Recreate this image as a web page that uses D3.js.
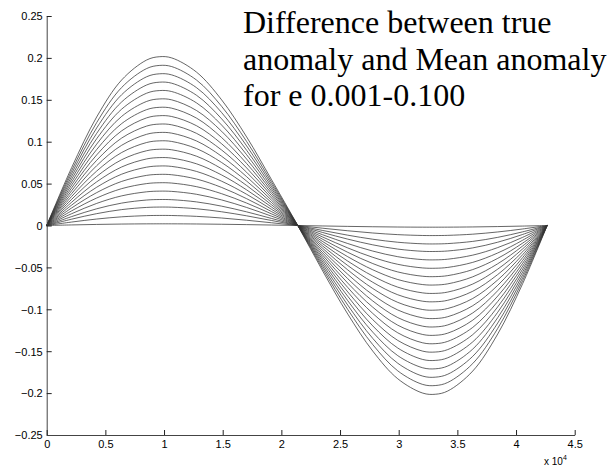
<!DOCTYPE html>
<html>
<head>
<meta charset="utf-8">
<script src="https://cdn.jsdelivr.net/npm/d3@7"></script>
<style>
  html, body { margin: 0; padding: 0; background: #fff; }
  svg { display: block; }
  .ttl { font-family: "Liberation Serif", "Times New Roman", Times, "DejaVu Serif", serif; }
</style>
</head>
<body>
<svg id="chart" width="616" height="469"></svg>
<script>
// ---- data (x in units of 1e4) ----
const xSamples = [0, 0.213, 0.426, 0.639, 0.852, 0.959, 1.065, 1.278, 1.491, 1.704, 1.917, 2.14,
                  2.353, 2.566, 2.779, 2.992, 3.205, 3.311, 3.418, 3.631, 3.844, 4.057, 4.265];
// outermost curve (e = 0.100)
const outerCurve = [0, 0.0692, 0.1295, 0.1737, 0.1975, 0.2014, 0.2000, 0.1829, 0.1499, 0.1057, 0.0545, 0,
                    -0.0545, -0.1057, -0.1499, -0.1829, -0.2000, -0.2014, -0.1975, -0.1737, -0.1295, -0.0692, 0];
// peak amplitude of each curve (e from 0.001 to 0.100)
const peaks = [0.002, 0.012, 0.022, 0.031, 0.041, 0.051, 0.061, 0.071, 0.081, 0.091, 0.101,
               0.111, 0.121, 0.131, 0.141, 0.151, 0.161, 0.171, 0.181, 0.191, 0.2014];
const xTicks = [0, 0.5, 1, 1.5, 2, 2.5, 3, 3.5, 4, 4.5];
const yTicks = [-0.25, -0.2, -0.15, -0.1, -0.05, 0, 0.05, 0.1, 0.15, 0.2, 0.25];
const titleLines = ["Difference between true", "anomaly and Mean anomaly", "for e 0.001-0.100"];

// ---- layout ----
const svg = d3.select("#chart");
const L = 46.7, R = 574.7, T = 16, B = 435;
const x = d3.scaleLinear().domain([0, 4.5]).range([L, R]);
const y = d3.scaleLinear().domain([-0.25, 0.25]).range([B, T]);

const series = peaks.map(p => xSamples.map((xv, i) => [xv, outerCurve[i] * p / outerCurve[5]]));

const line = d3.line().x(d => x(d[0])).y(d => y(d[1])).curve(d3.curveCatmullRom.alpha(0.5));

svg.append("g").selectAll("path").data(series).join("path")
  .attr("d", line)
  .attr("fill", "none")
  .attr("stroke", "#333")
  .attr("stroke-width", 0.75);

// axes
const font = "'Liberation Sans', Arial, Helvetica, sans-serif";
const yAxis = d3.axisLeft(y).tickValues(yTicks).tickSizeInner(-5).tickSizeOuter(0)
  .tickPadding(4).tickFormat(d => d3.format("")(+d.toFixed(2)));
const gy = svg.append("g").attr("transform", `translate(${L},0)`).call(yAxis);
const xAxis = d3.axisBottom(x).tickValues(xTicks).tickSizeInner(-5).tickSizeOuter(0)
  .tickPadding(3).tickFormat(d => d3.format("")(d));
const gx = svg.append("g").attr("transform", `translate(0,${B})`).call(xAxis);

[gx, gy].forEach(g => {
  g.select(".domain").attr("stroke", "#444").attr("stroke-width", 1);
  g.selectAll(".tick line").attr("stroke", "#222").attr("stroke-width", 1);
  g.selectAll(".tick text").attr("fill", "#000").style("font-family", font).style("font-size", "11px");
});
gy.selectAll(".tick text").attr("x", -4).attr("dy", "0.35em");
gx.selectAll(".tick text").attr("y", 5);

// exponent label
const ex = svg.append("text").attr("x", 544).attr("y", 465)
  .style("font-family", font).style("font-size", "10px").attr("fill", "#000");
ex.append("tspan").text("x 10");
ex.append("tspan").attr("dy", -5).style("font-size", "7px").text("4");

// title
const tY = [33, 70, 106];
titleLines.forEach((t, i) => {
  svg.append("text").attr("class", "ttl").attr("x", 243).attr("y", tY[i])
    .style("font-size", "32px").attr("fill", "#000").text(t);
});
</script>
</body>
</html>
